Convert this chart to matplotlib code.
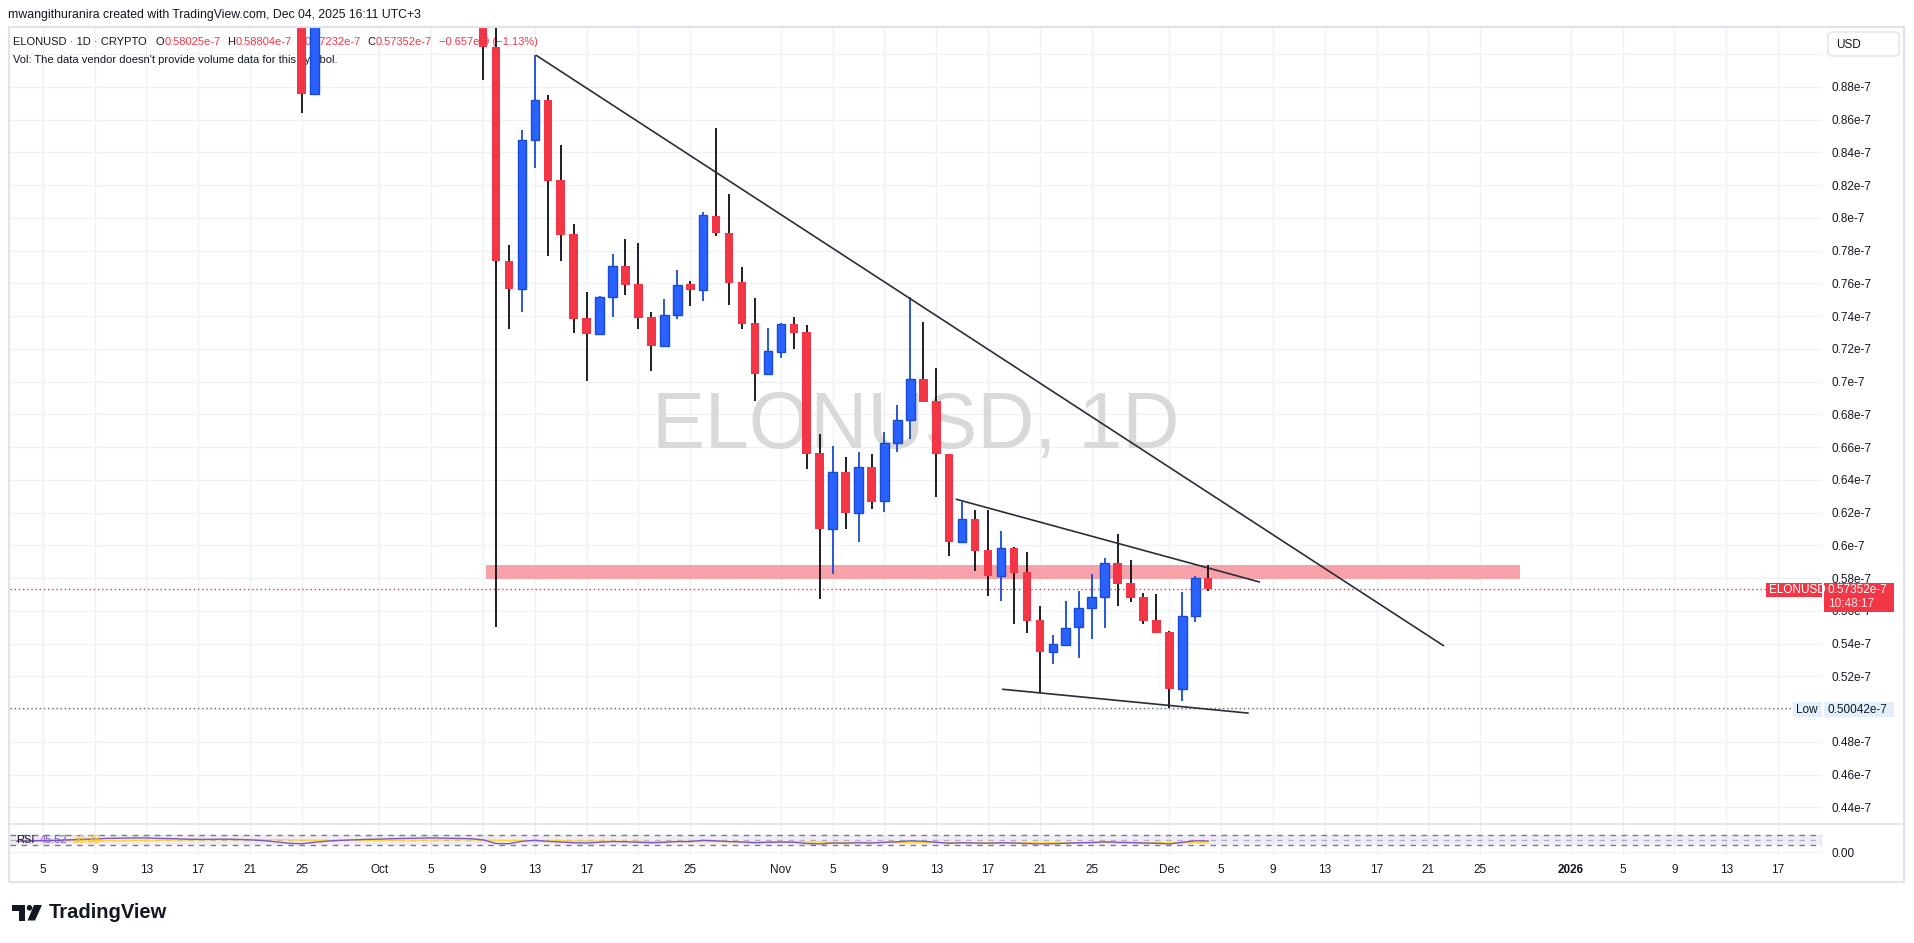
import matplotlib
matplotlib.use("Agg")
import matplotlib.pyplot as plt
import matplotlib.dates as mdates
import matplotlib.transforms as mtransforms
from matplotlib.patches import Rectangle, FancyBboxPatch, Polygon, Circle
import numpy as np
import pandas as pd

plt.rcParams['font.family'] = ['Liberation Sans', 'DejaVu Sans']

# ---------------- data (prices in units of 1e-7 USD) ----------------
candle_dates = (["2025-09-25", "2025-09-26"]
                + [d.strftime("%Y-%m-%d") for d in pd.date_range("2025-10-09", "2025-12-04")])

opens = [0.935, 0.8755,
         0.930, 0.9042, 0.7736, 0.7567, 0.8474, 0.8717, 0.8230, 0.7900, 0.7387, 0.7292, 0.7516,
         0.7703, 0.7593, 0.7393, 0.7220, 0.7404, 0.7593, 0.7562, 0.8010, 0.7906, 0.7607, 0.7357, 0.7044,
         0.7182, 0.7351, 0.7302, 0.6563, 0.6097, 0.6445, 0.6195, 0.6476, 0.6272, 0.6622,
         0.6763, 0.7013, 0.6881, 0.6555, 0.6018, 0.6158, 0.5971, 0.5815, 0.5981, 0.5837,
         0.5542, 0.5351, 0.5393, 0.5499, 0.5615, 0.5682, 0.5890, 0.5768, 0.5684, 0.5542,
         0.5471, 0.5125, 0.5568, 0.58025]
highs = [0.950, 0.960,
         0.950, 0.925, 0.7833, 0.8536, 0.8993, 0.8749, 0.8444, 0.7961, 0.7544, 0.7522, 0.7778,
         0.7870, 0.7845, 0.7424, 0.7503, 0.7681, 0.7613, 0.8033, 0.8548, 0.8145, 0.7699, 0.7512, 0.7327,
         0.7359, 0.7396, 0.7345, 0.6681, 0.6606, 0.6539, 0.6569, 0.6557, 0.6692, 0.6856,
         0.7514, 0.7365, 0.7082, 0.6555, 0.6266, 0.6216, 0.6216, 0.6087, 0.5990, 0.5961,
         0.5629, 0.5452, 0.5660, 0.5721, 0.5825, 0.5923, 0.6069, 0.5910, 0.5707, 0.5703,
         0.5475, 0.5715, 0.5812, 0.58804]
lows = [0.8638, 0.8755,
        0.8843, 0.5504, 0.7318, 0.7426, 0.8305, 0.7768, 0.7737, 0.7294, 0.7005, 0.7292, 0.7396,
        0.7528, 0.7318, 0.7066, 0.7212, 0.7383, 0.7463, 0.7493, 0.7890, 0.7467, 0.7322, 0.6883, 0.7044,
        0.7142, 0.7201, 0.6464, 0.5675, 0.5822, 0.6097, 0.6018, 0.6219, 0.6201, 0.6571,
        0.6647, 0.6877, 0.6297, 0.5932, 0.6012, 0.5845, 0.5693, 0.5662, 0.5522, 0.5467,
        0.5096, 0.5277, 0.5391, 0.5314, 0.5430, 0.5493, 0.5631, 0.5656, 0.5517, 0.5467,
        0.50042, 0.5051, 0.5534, 0.57232]
closes = [0.8755, 0.940,
          0.9042, 0.7736, 0.7567, 0.8474, 0.8717, 0.8226, 0.7896, 0.7383, 0.7292, 0.7516, 0.7703,
          0.7589, 0.7389, 0.7220, 0.7404, 0.7587, 0.7562, 0.8014, 0.7904, 0.7603, 0.7353, 0.7043, 0.7186,
          0.7349, 0.7298, 0.6559, 0.6097, 0.6445, 0.6195, 0.6476, 0.6266, 0.6622, 0.6763,
          0.7013, 0.6877, 0.6555, 0.6018, 0.6158, 0.5968, 0.5815, 0.5981, 0.5833, 0.5540,
          0.5351, 0.5395, 0.5493, 0.5615, 0.5682, 0.5890, 0.5766, 0.5680, 0.5540, 0.5467,
          0.5125, 0.5568, 0.58009, 0.57352]

rsi_dates = [d.strftime("%Y-%m-%d") for d in pd.date_range("2025-09-03", "2025-12-04")]
rsi_values = [45, 46, 47, 48, 50, 52,
              54, 56, 57, 58, 58, 56, 55,
              53, 52, 52, 53, 52, 50, 47,
              42, 36, 34, 40,
              45, 48, 50, 52,
              53, 55, 56, 57, 58, 57, 56, 55,
              50, 35, 34, 44, 48, 44,
              41, 38, 37, 40, 43, 42, 40,
              38, 40, 43, 43, 48, 46, 43, 41, 38, 40,
              41, 40, 35, 33, 37, 36, 38, 37, 40, 42,
              46, 44, 40, 36, 38, 37, 36, 38, 37, 35,
              33, 34, 36, 38, 39, 42, 40, 39, 37, 36,
              33, 40, 46, 45.52]
rsi_ma = [44, 44, 45, 45, 45, 46, 46, 47, 47, 48, 48, 49, 49, 50, 50, 51, 51, 51, 51, 51,
          51, 50, 49, 48, 48, 48, 48, 48,
          48, 49, 49, 49, 49, 50, 50, 50, 49, 48, 47, 47, 47, 46, 46, 45, 45, 45, 44, 44,
          44, 43, 43, 43, 43, 43, 43, 42, 42, 42, 42,
          42, 42, 41, 41, 40, 40, 40, 39, 39, 39, 39, 39, 39, 39, 39, 38, 38, 38, 38, 38,
          38, 38, 38, 38, 38, 38, 38, 38, 38, 38,
          38, 38, 38.2, 38.38]

# trend lines drawn on the chart: (date, price) endpoints
trend_main = (["2025-10-13 02:00", "2025-12-22 05:00"], [0.8993, 0.5385])
trend_upper = (["2025-11-14 12:00", "2025-12-08 00:00"], [0.6282, 0.5775])
trend_lower = (["2025-11-18 02:00", "2025-12-07 03:00"], [0.5121, 0.4975])
zone_dates = ["2025-10-09 05:00", "2025-12-28 02:00"]
zone_prices = [0.5794, 0.5880]

tick_dates = ["2025-09-05", "2025-09-09", "2025-09-13", "2025-09-17", "2025-09-21", "2025-09-25",
              "2025-10-01", "2025-10-05", "2025-10-09", "2025-10-13", "2025-10-17", "2025-10-21", "2025-10-25",
              "2025-11-01", "2025-11-05", "2025-11-09", "2025-11-13", "2025-11-17", "2025-11-21", "2025-11-25",
              "2025-12-01", "2025-12-05", "2025-12-09", "2025-12-13", "2025-12-17", "2025-12-21", "2025-12-25",
              "2026-01-01", "2026-01-05", "2026-01-09", "2026-01-13", "2026-01-17"]
tick_labels = ["5", "9", "13", "17", "21", "25",
               "Oct", "5", "9", "13", "17", "21", "25",
               "Nov", "5", "9", "13", "17", "21", "25",
               "Dec", "5", "9", "13", "17", "21", "25",
               "2026", "5", "9", "13", "17"]
price_ticks = [0.44, 0.46, 0.48, 0.50, 0.52, 0.54, 0.56, 0.58, 0.60, 0.62, 0.64, 0.66,
               0.68, 0.70, 0.72, 0.74, 0.76, 0.78, 0.80, 0.82, 0.84, 0.86, 0.88, 0.90]
hidden_price_labels = [0.50, 0.90]   # covered by the "Low" tag and the "USD" box

# ---------------- styling ----------------
RED = '#f23645'
BLUE = '#2962ff'
BLUE_EDGE = '#1a4ad4'
TXT = '#131722'
GRID = '#eff1f5'
FRAME = '#e0e3eb'

W, H = 1915, 943
fig = plt.figure(figsize=(W / 100, H / 100), dpi=100, facecolor='white')


def fr(x0, y0, x1, y1):
    return [x0 / W, 1 - y1 / H, (x1 - x0) / W, (y1 - y0) / H]


ax = fig.add_axes(fr(10, 27, 1822, 824))
ax2 = fig.add_axes(fr(10, 824, 1822, 855), sharex=ax)

d2n = lambda s: mdates.date2num(pd.to_datetime(s))
x0 = d2n("2025-09-05")
ax.set_xlim(x0 - 2.53, x0 + 137.4)
ax.set_ylim(0.4298, 0.9165)

for a in (ax, ax2):
    for sp in a.spines.values():
        sp.set_visible(False)
    a.set_facecolor('white')
    a.set_axisbelow(True)
    a.grid(True, color=GRID, lw=1)

tx = d2n(tick_dates)
ax.set_xticks(tx)
ax.tick_params(axis='x', length=0, labelbottom=False)
ax.yaxis.tick_right()
ax.set_yticks(price_ticks)
ax.set_yticklabels(["" if any(abs(v - hp) < 1e-9 for hp in hidden_price_labels) else f"{v:g}e-7"
                    for v in price_ticks])
ax.tick_params(axis='y', length=0, pad=7, labelsize=8.5, labelcolor=TXT)

ax2.set_ylim(-12.3, 115.2)
ax2.yaxis.tick_right()
ax2.set_yticks([0])
ax2.set_yticklabels(["0.00"])
ax2.tick_params(axis='y', length=0, pad=7, labelsize=8.5, labelcolor=TXT)
ax2.set_xticks(tx)
ax2.set_xticklabels(tick_labels)
ax2.tick_params(axis='x', length=0, pad=6.5, labelsize=8.5, labelcolor=TXT)
for lab in ax2.get_xticklabels():
    if lab.get_text() == "2026":
        lab.set_fontweight('bold')

# watermark
ax.text(0.5, 0.497, "ELONUSD, 1D", transform=ax.transAxes, fontsize=57, color='#d9d9d9',
        ha='center', va='center', zorder=0.6)

# zone
zx = d2n(zone_dates)
ax.fill_between(zx, [zone_prices[0]] * 2, [zone_prices[1]] * 2, color='#f7a1a8', lw=0, zorder=1.5)

# candles
cx = d2n(candle_dates)
o, h, l, c = map(np.array, (opens, highs, lows, closes))
up = c >= o
ax.vlines(cx[up], l[up], h[up], color=BLUE_EDGE, lw=1.3, zorder=3)
ax.vlines(cx[~up], l[~up], h[~up], color='#0b0d12', lw=1.3, zorder=3)
ax.bar(cx[up], c[up] - o[up], bottom=o[up], width=0.66, color=BLUE, edgecolor=BLUE_EDGE, lw=1, zorder=4)
ax.bar(cx[~up], c[~up] - o[~up], bottom=o[~up], width=0.66, color=RED, lw=0, zorder=4)

# trend lines
for tl in (trend_main, trend_upper, trend_lower):
    ax.plot(d2n(tl[0]), tl[1], color='#2a2e39', lw=1.2, zorder=5, solid_capstyle='butt')

# last price & low lines
last_close = closes[-1]
low_val = min(lows)
ax.axhline(last_close, color=RED, lw=1, ls=(0, (1, 2)), zorder=2)
ax.axhline(low_val, color='#6a6d78', lw=1, ls=(0, (1, 2)), zorder=2)

# RSI pane
rx = d2n(rsi_dates)
ax2.axhspan(30, 70, color='#7e57c2', alpha=0.1, lw=0, zorder=1)
ax2.axhline(70, color='#787b86', lw=1, ls=(0, (4, 4)), zorder=2)
ax2.axhline(50, color='#787b86', lw=1, ls=(0, (4, 4)), alpha=0.5, zorder=2)
ax2.axhline(30, color='#787b86', lw=1, ls=(0, (4, 4)), zorder=2)
ax2.plot(rx, rsi_ma, color='#fdd835', lw=1, zorder=3)
ax2.plot(rx, rsi_values, color='#7e57c2', lw=1, zorder=4)

# pixel transform (x from left, y from top)
pix = mtransforms.Affine2D().scale(1, -1).translate(0, H)
renderer = fig.canvas.get_renderer()


def seq_text(axis, x, y, pieces, size=8, z=1):
    for s, col, gap in pieces:
        t = axis.text(x, y, s, transform=pix, color=col, fontsize=size, va='center', ha='left', zorder=z)
        x += t.get_window_extent(renderer).width + gap


chg = closes[-1] - closes[-2]
pct = chg / closes[-2] * 100
seq_text(ax, 13, 42, [("ELONUSD · 1D · CRYPTO", TXT, 9),
                      ("O", TXT, 0), (f"{opens[-1]:.5f}e-7", RED, 7),
                      ("H", TXT, 0), (f"{highs[-1]:.5f}e-7", RED, 7),
                      ("L", TXT, 0), (f"{lows[-1]:.5f}e-7", RED, 7),
                      ("C", TXT, 0), (f"{closes[-1]:.5f}e-7", RED, 7),
                      (f"\u2212{abs(chg) * 100:.3f}e-9 (\u2212{abs(pct):.2f}%)", RED, 0)])
ax.text(13, 60, "Vol: The data vendor doesn't provide volume data for this symbol.",
        transform=pix, color=TXT, fontsize=8, va='center', zorder=1)
seq_text(ax2, 16, 840, [("RSI", TXT, 5), (f"{rsi_values[-1]:.2f}", '#7e57c2', 6),
                        (f"{rsi_ma[-1]:.2f}", '#f5c518', 0)], z=6)

# overlay for frame & labels
ov = fig.add_axes([0, 0, 1, 1], zorder=10)
ov.set_xlim(0, W)
ov.set_ylim(H, 0)
ov.axis('off')
ov.patch.set_alpha(0)

ov.add_patch(Rectangle((9, 27), 1895, 855, fill=False, ec=FRAME, lw=1.5))
ov.plot([10, 1904], [824, 824], color=FRAME, lw=1.2)
ov.add_patch(FancyBboxPatch((1828, 32), 71, 24, boxstyle='round,pad=0,rounding_size=4',
                            fc='white', ec=FRAME, lw=1))
ov.text(1836, 44.5, "USD", fontsize=8.5, color=TXT, va='center')

fig.text(8 / W, 1 - 15 / H, "mwangithuranira created with TradingView.com, Dec 04, 2025 16:11 UTC+3",
         fontsize=8.8, color=TXT, va='center')


def ypix(val):
    return H - ax.transData.transform((x0, val))[1]


yc = ypix(last_close) + 1.5
ov.add_patch(Rectangle((1766, yc - 7), 56, 14, fc=RED, ec='none'))
ov.add_patch(Rectangle((1824, yc - 7), 70, 28.5, fc=RED, ec='none'))
ov.text(1769, yc, "ELONUSD", color='white', fontsize=8.5, va='center')
ov.text(1828, yc, f"{last_close:.5f}e-7", color='white', fontsize=8.5, va='center')
ov.text(1828, yc + 13.5, "10:48:17", color='#fde3e5', fontsize=8.5, va='center')

yl = ypix(low_val) + 1.2
ov.add_patch(Rectangle((1793, yl - 7.5), 29, 15, fc='#e3effd', ec='none'))
ov.add_patch(Rectangle((1824, yl - 7.5), 70, 15, fc='#e3effd', ec='none'))
ov.text(1796, yl, "Low", color=TXT, fontsize=8.5, va='center')
ov.text(1828, yl, f"{low_val:.5f}e-7", color=TXT, fontsize=8.5, va='center')

# TradingView logo
ov.add_patch(Rectangle((12, 905), 13.5, 5.5, fc='#131722', ec='none'))
ov.add_patch(Rectangle((19.5, 905), 6, 15.5, fc='#131722', ec='none'))
ov.add_patch(Circle((29.5, 907.8), 2.8, fc='#131722', ec='none'))
ov.add_patch(Polygon([(34, 905), (42, 905), (35, 920.5), (27.5, 920.5)], closed=True,
                     fc='#131722', ec='none'))
ov.text(49, 913, "TradingView", fontsize=14.5, fontweight='bold', color='#131722', va='center')

fig.savefig("out.png", dpi=100, facecolor='white')
